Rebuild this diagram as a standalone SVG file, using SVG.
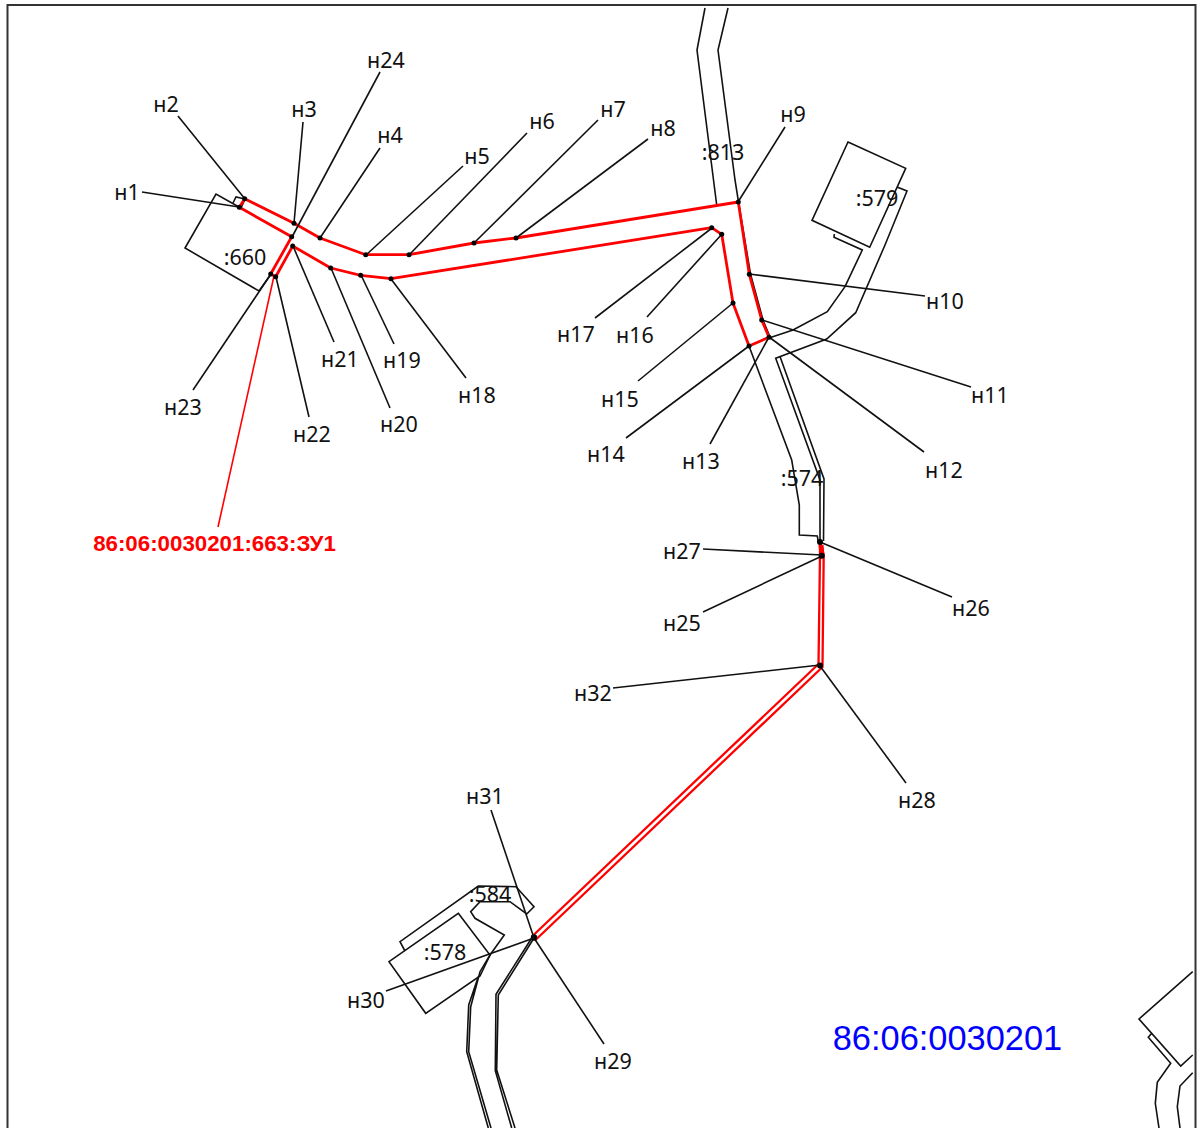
<svg xmlns="http://www.w3.org/2000/svg" width="1199" height="1128" viewBox="0 0 1199 1128">
<style>
text{font-family:"Noto Sans","Liberation Sans",sans-serif;font-size:21.500px;fill:#111;text-anchor:middle}
.p{fill:none;stroke:#111;stroke-width:1.6;stroke-linejoin:miter}
.l{fill:none;stroke:#111;stroke-width:1.6}
.d{fill:#000}
.r{fill:none;stroke:#f00;stroke-width:2.800;stroke-linejoin:round}
</style>
<rect width="1199" height="1128" fill="#fff"/>
<path d="M7.5,1128V5H1195.5V1128" fill="none" stroke="#333" stroke-width="2"/>
<g id="parcels">
<g id="p660"><path class="p" d="M239,207L216,194L185,248L259,291L271,274"/><text x="245" y="265">:660</text></g>
<path class="p" d="M233,203L236,197L245,199L241,208"/>
<g id="p813"><path class="p" d="M705,8L697,50L716.7,205M728,8L718,50L735,180L738.5,202L750.5,274L763,320L770,337"/><text x="723" y="160">:813</text></g>
<g id="p579"><path class="p" d="M848,142L905.700,168.300L869.700,247.300L812,220.300ZM834.300,234L834,237.300L862.300,250L845,286.700L827.300,311.700L793,330L769,338M897,187L907,191L885,245L855.700,312.700L826.700,339L775.700,358.300L820,480L820,541M780,356.500L824,479L823.500,541"/><text x="877" y="206">:579</text></g>
<g id="p574"><path class="p" d="M749,346L791.700,460L799.300,505V535L817.300,536L818.300,542"/><text x="802" y="486">:574</text></g>
<g id="p584"><path class="p" d="M405,951L400,941.700L478.300,886L516,886.700L534,906.700L526.700,914L510,901.700H480L470.700,911.700L475,918.300L504.300,935L490,955L480,971.700L470.700,1006.700L468.700,1051.700L491,1128M478.300,976.700L468.700,1005L466.700,1051.700L488.300,1128M534,938L498.300,995L496.700,1070L515,1128M531.700,938L496,994.300L495.300,1070.700L511.700,1128"/><text x="490" y="902">:584</text></g>
<g id="p578"><path class="p" d="M458.300,913.300L490,955L480,976L425.700,1013.300L389,961.700Z"/><text x="445" y="960">:578</text></g>
<g id="pe"><path class="p" d="M1192.700,971.700L1139,1019L1180.700,1066L1192.700,1055M1151.700,1033.300L1148.300,1037.300L1170.700,1063.300L1157.300,1082.300L1155.300,1103.300L1159,1128M1192.700,1072.700L1180,1086L1177.300,1106.700L1180,1128"/></g>
</g>
<g id="connectors">
<path class="r" d="M239.300,207.300L244.700,198.700L294,223.300L320,238L365.700,254.700H409L474,243L516,238L738.300,202L749.300,274.300L761.700,320L769,337.300L749,346L733,303L721.700,234.300L711.700,227.700L391,278.700L360.700,275.300L330.700,268L292.700,246L275.700,276.700L270.700,274L291.700,236.700Z"/>
<path class="r" style="stroke-width:2.300" d="M820,542L823.700,555L822.500,667L536,939.500L532.500,936L818.500,664L820,555Z"/>
<path class="r" style="stroke-width:5" d="M821,545L822,555"/>
<path class="r" style="stroke-width:1.6" d="M274,276L218,527"/>
</g>
<g id="n1"><path class="l" d="M142,192L239,207"/><circle class="d" cx="239.300" cy="207.300" r="2.500"/><text x="127" y="200">н1</text></g>
<g id="n2"><path class="l" d="M178,116L245,199"/><circle class="d" cx="244.700" cy="198.700" r="2.500"/><text x="166" y="112">н2</text></g>
<g id="n3"><path class="l" d="M303,122L294,223"/><circle class="d" cx="294" cy="223.300" r="2.500"/><text x="304" y="117">н3</text></g>
<g id="n4"><path class="l" d="M380,148L320,238"/><circle class="d" cx="320" cy="238" r="2.500"/><text x="390" y="143">н4</text></g>
<g id="n5"><path class="l" d="M463,166L366,255"/><circle class="d" cx="365.700" cy="254.700" r="2.500"/><text x="477" y="164">н5</text></g>
<g id="n6"><path class="l" d="M527,133L409,255"/><circle class="d" cx="409" cy="254.700" r="2.500"/><text x="542" y="129">н6</text></g>
<g id="n7"><path class="l" d="M598,120L474,243"/><circle class="d" cx="474" cy="243" r="2.500"/><text x="613" y="117">н7</text></g>
<g id="n8"><path class="l" d="M648,139L516,238"/><circle class="d" cx="516" cy="238" r="2.500"/><text x="663" y="136">н8</text></g>
<g id="n9"><path class="l" d="M785,127L738,202"/><circle class="d" cx="738.300" cy="202" r="2.500"/><text x="793" y="122">н9</text></g>
<g id="n10"><path class="l" d="M925,296L749,274"/><circle class="d" cx="749.300" cy="274.300" r="2.500"/><text x="945" y="309">н10</text></g>
<g id="n11"><path class="l" d="M971,387L762,320"/><circle class="d" cx="761.700" cy="320" r="2.500"/><text x="990" y="403">н11</text></g>
<g id="n12"><path class="l" d="M924,452L769,337"/><circle class="d" cx="769" cy="337.300" r="2.500"/><text x="944" y="478">н12</text></g>
<g id="n13"><path class="l" d="M710,444L769,337"/><text x="701" y="469">н13</text></g>
<g id="n14"><path class="l" d="M626,438L749,346"/><circle class="d" cx="749" cy="346" r="2.500"/><text x="606" y="462">н14</text></g>
<g id="n15"><path class="l" d="M638,381L733,303"/><circle class="d" cx="733" cy="303" r="2.500"/><text x="620" y="407">н15</text></g>
<g id="n16"><path class="l" d="M647,317L722,234"/><circle class="d" cx="721.700" cy="234.300" r="2.500"/><text x="635" y="343">н16</text></g>
<g id="n17"><path class="l" d="M595,318L712,228"/><circle class="d" cx="711.700" cy="227.700" r="2.500"/><text x="576" y="342">н17</text></g>
<g id="n18"><path class="l" d="M466,378L391,279"/><circle class="d" cx="391" cy="278.700" r="2.500"/><text x="477" y="403">н18</text></g>
<g id="n19"><path class="l" d="M394,344L361,275"/><circle class="d" cx="360.700" cy="275.300" r="2.500"/><text x="402" y="368">н19</text></g>
<g id="n20"><path class="l" d="M390,408L331,268"/><circle class="d" cx="330.700" cy="268" r="2.500"/><text x="399" y="432">н20</text></g>
<g id="n21"><path class="l" d="M334,342L293,246"/><circle class="d" cx="292.700" cy="246" r="2.500"/><text x="340" y="367">н21</text></g>
<g id="n22"><path class="l" d="M309,417L276,277"/><circle class="d" cx="275.700" cy="276.700" r="2.500"/><text x="312" y="442">н22</text></g>
<g id="n23"><path class="l" d="M193,390L271,274"/><circle class="d" cx="270.700" cy="274" r="2.500"/><text x="183" y="415">н23</text></g>
<g id="n24"><path class="l" d="M380,72L292,237"/><circle class="d" cx="291.700" cy="236.700" r="2.500"/><text x="386" y="68">н24</text></g>
<g id="n25"><path class="l" d="M703,612L822,556"/><circle class="d" cx="821.700" cy="555.700" r="3"/><text x="682" y="631">н25</text></g>
<g id="n26"><path class="l" d="M952,597L820,542"/><circle class="d" cx="820" cy="542" r="3"/><text x="971" y="616">н26</text></g>
<g id="n27"><path class="l" d="M703,549L822,555"/><text x="682" y="559">н27</text></g>
<g id="n28"><path class="l" d="M906,783L820,666"/><circle class="d" cx="820" cy="665.500" r="3"/><text x="917" y="808">н28</text></g>
<g id="n29"><path class="l" d="M604,1044L534,938"/><circle class="d" cx="534" cy="937.500" r="3.200"/><text x="613" y="1069">н29</text></g>
<g id="n30"><path class="l" d="M386,991L534,938"/><text x="366" y="1008">н30</text></g>
<g id="n31"><path class="l" d="M491,810L534,938"/><text x="485" y="804">н31</text></g>
<g id="n32"><path class="l" d="M613,688L820,665"/><text x="593" y="701">н32</text></g>
<text x="214.500" y="551" style="font-family:'Liberation Sans',sans-serif;font-weight:bold;fill:#f00;font-size:22.300px">86:06:0030201:663:ЗУ1</text>
<text x="947.500" y="1050" style="font-family:'Liberation Sans',sans-serif;fill:#00f;font-size:34.400px">86:06:0030201</text>
</svg>
